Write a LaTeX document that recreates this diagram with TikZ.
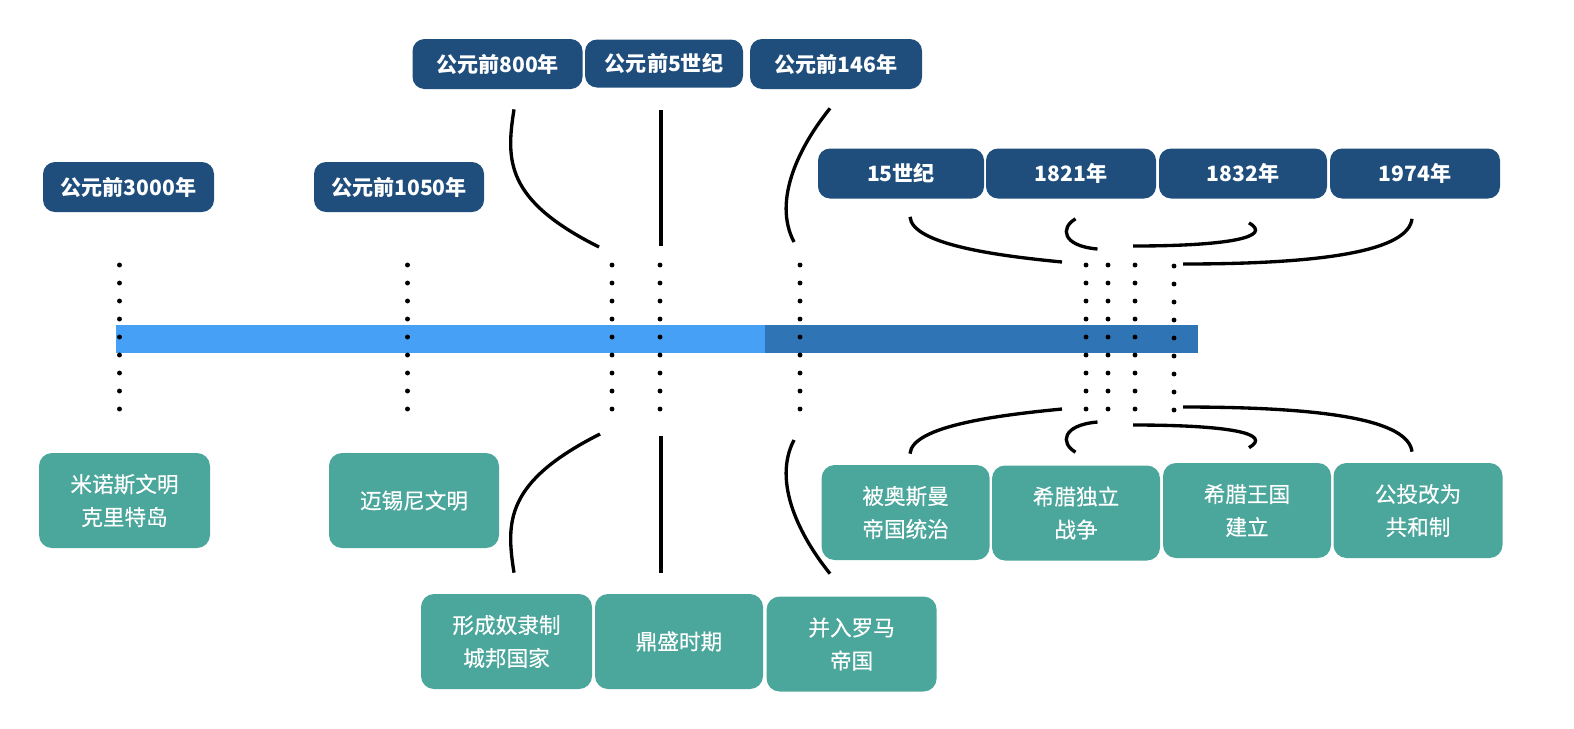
\documentclass[tikz,border=0pt]{standalone}
\usepackage{fontspec}
\newfontfamily\cjk{Noto Sans CJK SC}
\newfontfamily\cjkmittel[FakeBold=0.3]{Noto Sans CJK SC}
\usetikzlibrary{calc}
\definecolor{dunkelblau}{RGB}{31,78,124}
\definecolor{tuerkis}{RGB}{75,166,155}
\definecolor{hellbalken}{RGB}{70,160,246}
\definecolor{dunkelbalken}{RGB}{47,116,181}

\begin{document}
\begin{tikzpicture}[x=0.02cm,y=-0.02cm,
  jahr/.style={fill=dunkelblau,rounded corners=0.24cm,text=white,inner sep=0pt,
    font=\cjk\bfseries\fontsize{12pt}{14pt}\selectfont,minimum width=#1*0.02cm,minimum height=1cm},
  ereignis/.style={fill=tuerkis,rounded corners=0.26cm,text=white,inner sep=0pt,align=center,
    font=\cjkmittel\fontsize{12.3pt}{18.8pt}\selectfont,minimum width=#1*0.02cm,minimum height=1.9cm},
  verb/.style={line width=1.9pt},
  punkt/.style={fill=black}]
  \useasboundingbox (0,0) rectangle (1574,728);
  % Zeitstrahl
  \fill[hellbalken] (116,325) rectangle (765,353);
  \fill[dunkelbalken] (765,325) rectangle (1198,353);
  % Punktlinien
  \foreach \x in {119.5,407.5,612,660,800,1086,1108,1135}
    \foreach \k in {0,...,8} \fill[punkt] (\x,265+18*\k) circle (1.4pt);
  \foreach \k in {0,...,8} \fill[punkt] (1174,266+18*\k) circle (1.4pt);
  % Jahre
  \node[jahr=171] (t3000) at (128.5,187) {公元前3000年};
  \node[jahr=170] (t1050) at (399,187) {公元前1050年};
  \node[jahr=170] (t800) at (497.5,64) {公元前800年};
  \node[jahr=158,minimum height=0.96cm] (t5) at (664,63.5) {公元前5世纪};
  \node[jahr=172] (t146) at (836,64) {公元前146年};
  \node[jahr=166] (t15) at (901,173.5) {15世纪};
  \node[jahr=170] (t1821) at (1071,173.5) {1821年};
  \node[jahr=168] (t1832) at (1243,173.5) {1832年};
  \node[jahr=170] (t1974) at (1415,173.5) {1974年};
  % Ereignisse
  \node[ereignis=171] (e3000) at (124.5,500.5) {米诺斯文明\\克里特岛};
  \node[ereignis=170] (e1050) at (414,500.5) {迈锡尼文明};
  \node[ereignis=171] (e800) at (506.5,641.5) {形成奴隶制\\城邦国家};
  \node[ereignis=168] (e5) at (679,641.5) {鼎盛时期};
  \node[ereignis=170] (e146) at (851.6,644) {并入罗马\\帝国};
  \node[ereignis=168] (e15) at (905.6,512.5) {被奥斯曼\\帝国统治};
  \node[ereignis=168] (e1821) at (1076,513) {希腊独立\\战争};
  \node[ereignis=168] (e1832) at (1247,510.5) {希腊王国\\建立};
  \node[ereignis=169] (e1974) at (1418,510.5) {公投改为\\共和制};
  % Endpunkte an den Punktlinien
  \coordinate (o800) at (599,247);
  \coordinate (o5) at (661,246);
  \coordinate (o146) at (794,242);
  \coordinate (u800) at (600,434);
  \coordinate (u5) at (661,436);
  \coordinate (u146) at (794,440);
  \coordinate (o15) at (1062,262);
  \coordinate (o1821) at (1097.5,249);
  \coordinate (o1832) at (1133,246);
  \coordinate (o1974) at (1183,264);
  \coordinate (u15) at (1062,409);
  \coordinate (u1821) at (1097.5,422);
  \coordinate (u1832) at (1133,425);
  \coordinate (u1974) at (1183,407);
  % Verbindungen oben
  \draw[verb] ([shift={(16.5,20)}]t800.south) .. controls +(-8,51) and +(-94,-47) .. (o800);
  \draw[verb] ([shift={(-3,22.5)}]t5.south) -- (o5);
  \draw[verb] ([shift={(-6,19)}]t146.south) .. controls +(-30,37) and +(-22,-42) .. (o146);
  \draw[verb] ([shift={(9,18)}]t15.south) .. controls +(2,28) and +(-62,-6) .. (o15);
  \draw[verb] ([shift={(4.5,20)}]t1821.south) .. controls +(-15.5,9) and +(-35.5,-3) .. (o1821);
  \draw[verb] ([shift={(6,24)}]t1832.south) .. controls +(24,14) and +(97,0) .. (o1832);
  \draw[verb] ([shift={(-3,20)}]t1974.south) .. controls +(-4,31) and +(147,0) .. (o1974);
  % Verbindungen unten
  \draw[verb] ([shift={(7.5,-21)}]e800.north) .. controls +(-8,-51) and +(-95,48) .. (u800);
  \draw[verb] ([shift={(-18,-21)}]e5.north) -- (u5);
  \draw[verb] ([shift={(-21.6,-22.5)}]e146.north) .. controls +(-30,-37) and +(-22,42) .. (u146);
  \draw[verb] ([shift={(4.4,-11)}]e15.north) .. controls +(2,-28) and +(-62,6) .. (u15);
  \draw[verb] ([shift={(-0.5,-13)}]e1821.north) .. controls +(-15.5,-9) and +(-35.5,3) .. (u1821);
  \draw[verb] ([shift={(2,-15)}]e1832.north) .. controls +(24,-14) and +(97,0) .. (u1832);
  \draw[verb] ([shift={(-6,-11)}]e1974.north) .. controls +(-4,-31) and +(147,0) .. (u1974);
\end{tikzpicture}
\end{document}
